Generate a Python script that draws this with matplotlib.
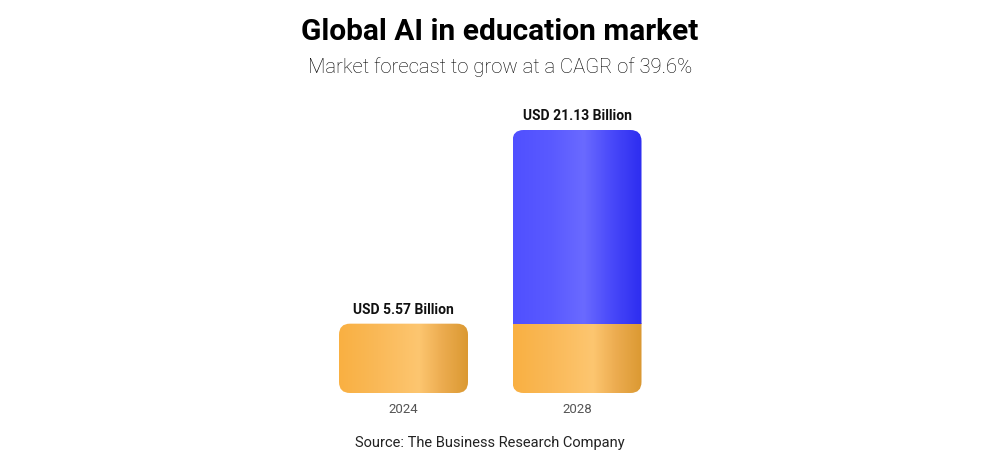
import numpy as np
import matplotlib
matplotlib.use("Agg")
import matplotlib.pyplot as plt
from matplotlib.patches import FancyBboxPatch

# ---- data ----
years = ["2024", "2028"]
values = [5.57, 21.13]
base_value = 5.57          # orange base portion shown in both bars
labels = ["USD 5.57 Billion", "USD 21.13 Billion"]
title = "Global AI in education market"
subtitle = "Market forecast to grow at a CAGR of 39.6%"
source = "Source: The Business Research Company"

plt.rcParams['font.family'] = ['Roboto', 'DejaVu Sans']

W, H = 1000, 468
fig = plt.figure(figsize=(W / 100, H / 100), dpi=100)
fig.patch.set_facecolor("white")

# axes placed so baseline at y=393px and 21.13 at y=130px
ax_left = 316.75 / W
ax_w = 347.0 / W
ax_bottom = (H - 393) / H
ax_h = 263.0 / H
ax = fig.add_axes([ax_left, ax_bottom, ax_w, ax_h])
ax.set_xlim(-0.5, 1.5)
ax.set_ylim(0, max(values))
ax.axis("off")

bar_w = 129 / 173.5
x_per_px = 2.0 / 347.0
y_per_px = max(values) / 263.0
aspect = y_per_px / x_per_px
radius = 11 * x_per_px


def gradient(stops, n=256):
    pos = np.array([s[0] for s in stops])
    cols = np.array([s[1] for s in stops], dtype=float) / 255.0
    t = np.linspace(0, 1, n)
    out = np.zeros((1, n, 3))
    for c in range(3):
        out[0, :, c] = np.interp(t, pos, cols[:, c])
    return out


orange = gradient([(0.0, (249, 176, 66)), (0.3, (250, 185, 88)),
                   (0.62, (253, 198, 112)), (0.8, (236, 172, 80)),
                   (1.0, (219, 153, 50))])
blue = gradient([(0.0, (80, 80, 255)), (0.3, (90, 90, 255)),
                 (0.55, (106, 106, 255)), (0.75, (75, 75, 250)),
                 (1.0, (45, 45, 240))])

for i, (yr, v) in enumerate(zip(years, values)):
    x0 = i - bar_w / 2
    x1 = i + bar_w / 2
    patch = FancyBboxPatch((x0, 0), bar_w, v,
                           boxstyle=f"round,pad=0,rounding_size={radius}",
                           mutation_aspect=aspect, facecolor="none",
                           edgecolor="none", transform=ax.transData)
    ax.add_patch(patch)
    ob = min(v, base_value)
    im = ax.imshow(orange, extent=(x0, x1, 0, ob), aspect="auto",
                   interpolation="bilinear", zorder=2)
    im.set_clip_path(patch)
    if v > base_value:
        im2 = ax.imshow(blue, extent=(x0, x1, base_value, v), aspect="auto",
                        interpolation="bilinear", zorder=2)
        im2.set_clip_path(patch)
    ax.annotate(labels[i], (i, v), xytext=(0, 7), textcoords="offset pixels",
                ha="center", va="bottom", fontsize=10, fontweight="bold",
                color="#111111")
    ax.annotate(yr, (i, 0), xytext=(0, -10), textcoords="offset pixels",
                ha="center", va="top", fontsize=9.5, color="#555555")

ax.set_xlim(-0.5, 1.5)
ax.set_ylim(0, max(values))

fig.text(0.5, 1 - 32 / H, title, ha="center", va="center",
         fontsize=21.5, fontweight="bold", color="#000000")
fig.text(0.5, 1 - 67 / H, subtitle, ha="center", va="center",
         fontsize=14.6, fontweight="light", color="#000000")
fig.text(0.49, 1 - 443 / H, source, ha="center", va="center",
         fontsize=10.5, color="#222222")

fig.savefig("out.png", dpi=100, facecolor="white")
